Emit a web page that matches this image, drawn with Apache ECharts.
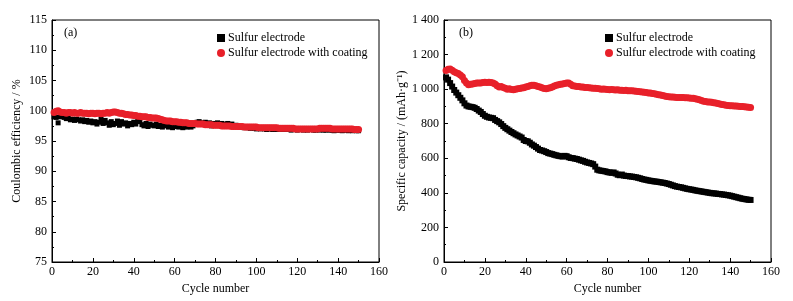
<!DOCTYPE html>
<html>
<head>
<meta charset="utf-8">
<script src="https://cdn.jsdelivr.net/npm/echarts@6/dist/echarts.min.js"></script>
<style>
  html, body { margin: 0; padding: 0; background: #fff; }
  #chart { width: 793px; height: 301px; }
</style>
</head>
<body>
<div id="chart"></div>
<script>
// cycles 1..150
var cycles = [];
for (var i = 1; i <= 150; i++) cycles.push(i);

// (a) coulombic efficiency, %
var effBare = [
  99.0, 98.9, 98.0, 99.0, 99.1, 98.9, 98.7, 98.8, 98.5, 98.6,
  98.4, 98.6, 98.5, 98.3, 98.5, 98.2, 98.4, 98.1, 98.3, 98.0,
  98.2, 97.8, 98.1, 98.6, 97.9, 98.4, 98.0, 97.6, 98.2, 97.7,
  97.9, 98.3, 97.6, 98.2, 97.8, 98.0, 97.5, 97.9, 97.7, 98.1,
  97.8, 98.3, 98.2, 97.7, 97.5, 97.9, 97.4, 97.8, 97.6, 97.5,
  97.8, 97.4, 97.6, 97.3, 97.7, 97.5, 97.3, 97.6, 97.2, 97.4,
  97.6, 97.3, 97.5, 97.2, 97.4, 97.3, 97.6, 97.3, 97.5, 97.8,
  98.1, 98.2, 98.0, 97.9, 98.1, 97.6, 98.0, 97.5, 97.9, 97.7,
  98.0, 97.6, 97.9, 97.4, 97.8, 97.9, 97.6, 97.8, 97.5, 97.6,
  97.4, 97.3, 97.4, 97.2, 97.3, 97.2, 97.1, 97.2, 97.1, 97.0,
  97.1, 97.0, 97.1, 97.0, 96.9, 97.0, 97.0, 96.9, 97.0, 96.9,
  97.0, 96.9, 96.9, 97.0, 96.9, 96.9, 96.8, 96.9, 96.9, 96.8,
  96.9, 96.9, 96.8, 96.9, 96.8, 96.9, 96.9, 96.8, 96.8, 96.9,
  96.8, 96.9, 96.8, 96.8, 96.9, 96.8, 96.8, 96.7, 96.8, 96.8,
  96.8, 96.7, 96.8, 96.8, 96.7, 96.8, 96.7, 96.8, 96.7, 96.7
];
var effCoat = [
  99.7, 99.9, 100.0, 99.8, 99.7, 99.7, 99.6, 99.7, 99.7, 99.6,
  99.7, 99.6, 99.6, 99.7, 99.6, 99.6, 99.6, 99.5, 99.6, 99.6,
  99.5, 99.6, 99.6, 99.5, 99.6, 99.6, 99.7, 99.6, 99.7, 99.8,
  99.8, 99.7, 99.6, 99.6, 99.5, 99.4, 99.4, 99.3, 99.3, 99.2,
  99.2, 99.1, 99.1, 99.0, 99.0, 99.0, 98.9, 98.9, 98.8, 98.8,
  98.8, 98.7, 98.6, 98.5, 98.4, 98.3, 98.3, 98.3, 98.2, 98.2,
  98.2, 98.1, 98.1, 98.0, 98.0, 98.0, 97.9, 97.9, 97.9, 97.9,
  97.8, 97.8, 97.8, 97.8, 97.7, 97.7, 97.7, 97.7, 97.6, 97.6,
  97.6, 97.6, 97.5, 97.5, 97.5, 97.5, 97.5, 97.4, 97.4, 97.4,
  97.4, 97.4, 97.4, 97.3, 97.3, 97.3, 97.3, 97.3, 97.3, 97.3,
  97.2, 97.2, 97.2, 97.2, 97.2, 97.2, 97.2, 97.2, 97.2, 97.2,
  97.1, 97.1, 97.1, 97.1, 97.1, 97.1, 97.1, 97.1, 97.0, 97.0,
  97.0, 97.0, 97.0, 97.0, 97.0, 97.0, 97.0, 97.0, 97.0, 97.0,
  97.1, 97.1, 97.1, 97.1, 97.1, 97.1, 97.0, 97.0, 97.0, 97.0,
  97.0, 97.0, 97.0, 97.0, 97.0, 97.0, 97.0, 96.9, 96.9, 96.9
];

// (b) specific capacity, mAh/g
var capBare = [
  1068, 1055, 1035, 1015, 995, 980, 965, 950, 935, 918,
  905, 900, 898, 896, 892, 885, 876, 868, 856, 846,
  840, 836, 834, 832, 822, 815, 808, 798, 786, 776,
  768, 760, 752, 745, 738, 732, 726, 720, 706, 700,
  698, 690, 680, 673, 665, 656, 648, 645, 641, 636,
  630, 627, 624, 620, 617, 614, 612, 610, 614, 612,
  606, 602, 601, 598, 596, 592, 588, 585, 580, 576,
  573, 570, 566, 552, 534, 530, 528, 526, 524, 520,
  518, 516, 518, 512, 505, 502, 506, 500, 498, 497,
  495, 494, 492, 490, 487, 484, 480, 477, 475, 472,
  470, 468, 466, 465, 463, 461, 459, 457, 454, 451,
  447, 443, 439, 436, 434, 432, 429, 426, 423, 421,
  419, 417, 414, 412, 410, 408, 406, 404, 402, 400,
  398, 397, 396, 394, 393, 391, 390, 388, 386, 384,
  381, 378, 375, 372, 369, 366, 364, 362, 360, 359
];
var capCoat = [
  1108, 1115, 1117, 1110, 1100, 1095, 1090, 1082, 1072, 1050,
  1035, 1025, 1028, 1030, 1033, 1035, 1035, 1036, 1038, 1040,
  1038, 1040, 1038, 1036, 1030, 1020, 1012, 1015, 1010, 1005,
  1000, 1002, 998, 996, 1000, 1002, 1004, 1006, 1008, 1012,
  1015, 1020, 1022, 1023, 1020, 1015, 1012, 1008, 1003, 1002,
  1005, 1008, 1012, 1018, 1022, 1026, 1029, 1030, 1033, 1036,
  1035, 1028, 1020, 1018, 1016, 1015, 1013, 1012, 1010, 1010,
  1008, 1006, 1005, 1005, 1003, 1002, 1000, 1001, 1000, 998,
  997, 998, 996, 995, 996, 994, 993, 992, 993, 991,
  990, 990, 989, 988, 987, 985, 984, 982, 980, 978,
  977, 975, 973, 970, 968, 966, 963, 960, 958, 956,
  955, 954, 953, 952, 952, 951, 952, 950, 950, 949,
  948, 947, 945, 942, 938, 934, 930, 928, 926, 925,
  924, 922, 920, 917, 914, 911, 909, 907, 905, 904,
  904, 903, 902, 901, 900, 899, 898, 897, 895, 894
];

var seriesNames = ["Sulfur electrode", "Sulfur electrode with coating"];

function pairs(ys) {
  return ys.map(function (v, i) { return [cycles[i], v]; });
}

var font = "Liberation Serif";
var txt = { color: "#000", fontFamily: font, fontSize: 12 };

function xAxisFor(gi) {
  return {
    gridIndex: gi, type: "value", min: 0, max: 160, interval: 20,
    name: "Cycle number", nameLocation: "middle", nameGap: 20,
    nameTextStyle: { color: "#000", fontFamily: font, fontSize: 12 },
    axisLine: { lineStyle: { color: "#000", width: 1 } },
    axisTick: { inside: true, length: 4, lineStyle: { color: "#000" } },
    minorTick: { show: true, splitNumber: 2, length: 2, lineStyle: { color: "#000" } },
    axisLabel: Object.assign({ margin: 4 }, txt),
    splitLine: { show: false }
  };
}

var chart = echarts.init(document.getElementById("chart"));
chart.setOption({
  animation: false,
  backgroundColor: "#fff",
  grid: [
    { left: 52, right: 414, top: 20, bottom: 39, show: true, borderColor: "#000", borderWidth: 1 },
    { left: 444, right: 22, top: 20, bottom: 39, show: true, borderColor: "#000", borderWidth: 1 }
  ],
  xAxis: [xAxisFor(0), xAxisFor(1)],
  yAxis: [
    {
      gridIndex: 0, type: "value", min: 75, max: 115, interval: 5,
      name: "Coulombic efficiency / %", nameLocation: "middle", nameGap: 29,
      nameTextStyle: { color: "#000", fontFamily: font, fontSize: 12 },
      axisLine: { show: true, lineStyle: { color: "#000" } },
      axisTick: { inside: true, length: 4, lineStyle: { color: "#000" } },
      minorTick: { show: true, splitNumber: 2, length: 2, lineStyle: { color: "#000" } },
      axisLabel: Object.assign({ margin: 5 }, txt),
      splitLine: { show: false }
    },
    {
      gridIndex: 1, type: "value", min: 0, max: 1400, interval: 200,
      name: "Specific capacity / (mAh\u00b7g\u207b\u00b9)", nameLocation: "middle", nameGap: 32,
      nameTextStyle: { color: "#000", fontFamily: font, fontSize: 12 },
      axisLine: { show: true, lineStyle: { color: "#000" } },
      axisTick: { inside: true, length: 4, lineStyle: { color: "#000" } },
      minorTick: { show: true, splitNumber: 2, length: 2, lineStyle: { color: "#000" } },
      axisLabel: Object.assign({
        margin: 5,
        formatter: function (v) {
          return v >= 1000 ? Math.floor(v / 1000) + " " + String(v % 1000).padStart(3, "0") : String(v);
        }
      }, txt),
      splitLine: { show: false }
    }
  ],
  legend: [
    {
      left: 212, top: 27, orient: "vertical", itemGap: 3, itemWidth: 8, itemHeight: 8,
      textStyle: { color: "#000", fontFamily: font, fontSize: 12, padding: [0, 0, 0, -2] },
      data: [{ name: seriesNames[0], icon: "rect" }, { name: seriesNames[1], icon: "circle" }]
    },
    {
      left: 600, top: 27, orient: "vertical", itemGap: 3, itemWidth: 8, itemHeight: 8,
      textStyle: { color: "#000", fontFamily: font, fontSize: 12, padding: [0, 0, 0, -2] },
      data: [{ name: seriesNames[0], icon: "rect" }, { name: seriesNames[1], icon: "circle" }]
    }
  ],
  graphic: [
    { type: "text", left: 64, top: 27, style: { text: "(a)", fill: "#000", font: "12px " + font } },
    { type: "text", left: 459, top: 27, style: { text: "(b)", fill: "#000", font: "12px " + font } }
  ],
  series: [
    {
      name: seriesNames[0], type: "scatter", xAxisIndex: 0, yAxisIndex: 0,
      symbol: "rect", symbolSize: 5, itemStyle: { color: "#000", opacity: 1 },
      data: pairs(effBare)
    },
    {
      name: seriesNames[1], type: "scatter", xAxisIndex: 0, yAxisIndex: 0,
      symbol: "circle", symbolSize: 7, itemStyle: { color: "#e8202a", opacity: 1 },
      data: pairs(effCoat)
    },
    {
      name: seriesNames[0], type: "scatter", xAxisIndex: 1, yAxisIndex: 1,
      symbol: "rect", symbolSize: 6, itemStyle: { color: "#000", opacity: 1 },
      data: pairs(capBare)
    },
    {
      name: seriesNames[1], type: "scatter", xAxisIndex: 1, yAxisIndex: 1,
      symbol: "circle", symbolSize: 7, itemStyle: { color: "#e8202a", opacity: 1 },
      data: pairs(capCoat)
    }
  ]
});
</script>
</body>
</html>
